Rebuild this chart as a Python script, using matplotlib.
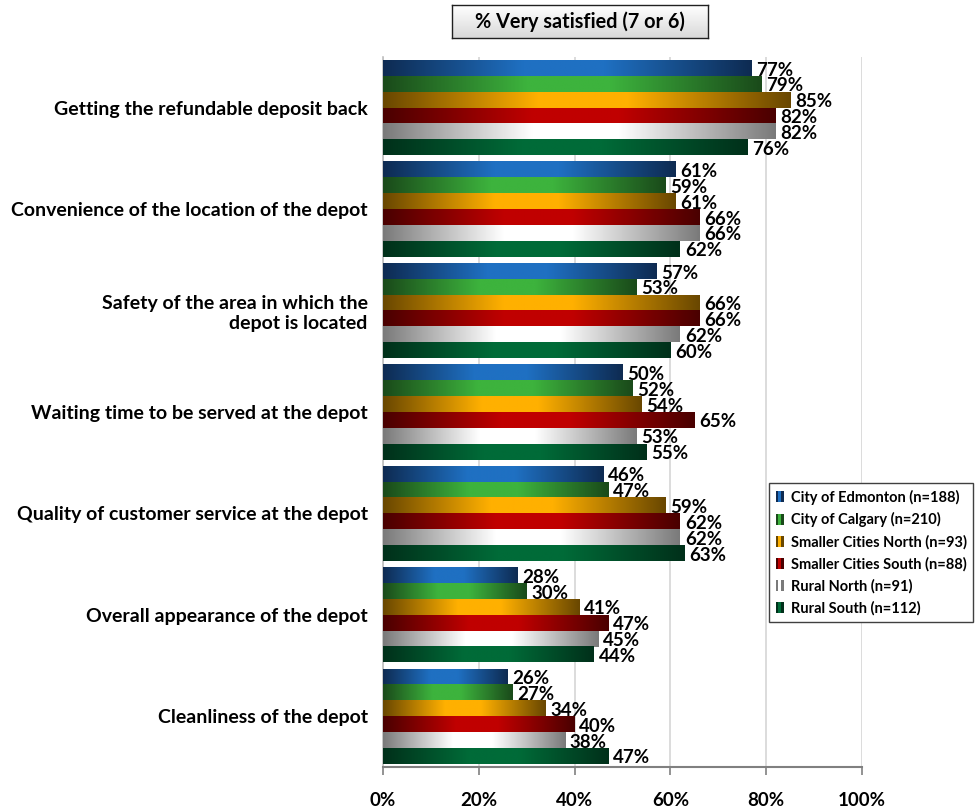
import numpy as np
import matplotlib
matplotlib.use("Agg")
import matplotlib.pyplot as plt
from matplotlib.colors import to_rgb
from matplotlib.patches import Rectangle, Patch
from matplotlib.legend_handler import HandlerBase

plt.rcParams['font.family'] = ['Lato', 'DejaVu Sans']
plt.rcParams['font.weight'] = 'bold'

categories = [
    "Getting the refundable deposit back",
    "Convenience of the location of the depot",
    "Safety of the area in which the\ndepot is located",
    "Waiting time to be served at the depot",
    "Quality of customer service at the depot",
    "Overall appearance of the depot",
    "Cleanliness of the depot",
]
series_names = [
    "City of Edmonton (n=188)",
    "City of Calgary (n=210)",
    "Smaller Cities North (n=93)",
    "Smaller Cities South (n=88)",
    "Rural North (n=91)",
    "Rural South (n=112)",
]
edmonton = [77, 61, 57, 50, 46, 28, 26]
calgary = [79, 59, 53, 52, 47, 30, 27]
small_north = [85, 61, 66, 54, 59, 41, 34]
small_south = [82, 66, 66, 65, 62, 47, 40]
rural_north = [82, 66, 62, 53, 62, 45, 38]
rural_south = [76, 62, 60, 55, 63, 44, 47]
series_values = [edmonton, calgary, small_north, small_south, rural_north, rural_south]
x_ticks = [0, 20, 40, 60, 80, 100]
x_ticklabels = ["0%", "20%", "40%", "60%", "80%", "100%"]
title_text = "% Very satisfied (7 or 6)"

# (dark, light) gradient colours
grad_colors = [
    ("#0E2B52", "#1F70C2"),
    ("#1A4A1A", "#3DB33D"),
    ("#694700", "#FFB000"),
    ("#4A0000", "#C00000"),
    ("#7A7A7A", "#FFFFFF"),
    ("#00301A", "#006B38"),
]


def gradient_row(dark, light, n=256):
    d = np.array(to_rgb(dark))
    l = np.array(to_rgb(light))
    t = np.linspace(0, 1, n)
    stops = [0.0, 0.38, 0.6, 1.0]
    w = np.interp(t, stops, [0.0, 1.0, 1.0, 0.0])
    row = d[None, :] * (1 - w[:, None]) + l[None, :] * w[:, None]
    return row[None, :, :]


W, H = 975, 809
fig = plt.figure(figsize=(W / 100, H / 100), dpi=100)
ax = fig.add_axes([383 / W, 1 - 767 / H, (862 - 383) / W, (767 - 57) / H])

n_groups = len(categories)
n_series = len(series_values)
group_fill = 0.937
bh = group_fill / n_series

for j, (vals, (dark, light)) in enumerate(zip(series_values, grad_colors)):
    img = gradient_row(dark, light)
    for i, v in enumerate(vals):
        yc = i - group_fill / 2 + bh * (j + 0.5)
        bars = ax.barh(yc, v, height=bh, color='none', edgecolor='none', zorder=3)
        r = bars[0]
        x0, y0 = r.get_x(), r.get_y()
        ax.imshow(img, extent=(x0, x0 + r.get_width(), y0 + r.get_height(), y0),
                  aspect='auto', interpolation='bilinear', zorder=3)
        ax.text(v + 1.0, yc + 0.02, f"{v}%", va='center', ha='left',
                fontsize=13.5, fontweight='bold', color='black', zorder=4)

ax.set_xlim(0, 100)
ax.set_ylim(n_groups - 0.5, -0.5)
ax.set_aspect('auto')

ax.set_xticks(x_ticks)
ax.set_xticklabels(x_ticklabels, fontsize=13.5, fontweight='bold')
ax.set_yticks(range(n_groups))
ax.set_yticklabels(categories, fontsize=14, fontweight='bold')
ax.tick_params(axis='y', length=0, pad=11)
ax.tick_params(axis='x', direction='out', length=6, width=1.2, color='#808080', pad=12)

ax.grid(axis='x', color='#D9D9D9', lw=1.3, zorder=0)
ax.set_axisbelow(True)
for s in ['top', 'right']:
    ax.spines[s].set_visible(False)
ax.spines['left'].set_color('#BFBFBF')
ax.spines['left'].set_linewidth(1.2)
ax.spines['bottom'].set_color('#808080')
ax.spines['bottom'].set_linewidth(1.5)


# Legend with striped gradient markers
class GradPatch(Patch):
    def __init__(self, dark, light, **kw):
        super().__init__(**kw)
        self.dark = dark
        self.light = light


class GradHandler(HandlerBase):
    def create_artists(self, legend, orig_handle, xdescent, ydescent,
                       width, height, fontsize, trans):
        w = width / 3.0
        arts = []
        for k, c in enumerate([orig_handle.dark, orig_handle.light, orig_handle.dark]):
            arts.append(Rectangle((-xdescent + k * w, -ydescent), w, height,
                                  facecolor=c, edgecolor='none', transform=trans))
        return arts


handles = [GradPatch(d, l, label=n) for (d, l), n in zip(grad_colors, series_names)]
leg = fig.legend(handles=handles, labels=series_names,
                 handler_map={GradPatch: GradHandler()},
                 loc='upper left', bbox_to_anchor=(769 / W, 1 - 483 / H),
                 bbox_transform=fig.transFigure, borderaxespad=0,
                 prop={'family': ['Lato', 'DejaVu Sans'], 'weight': 'bold', 'size': 10.5},
                 handlelength=0.55, handleheight=0.8, handletextpad=0.5,
                 labelspacing=0.52, borderpad=0.45, fancybox=False, framealpha=1,
                 edgecolor='#404040')
leg.get_frame().set_linewidth(1.0)

# Title box with vertical gradient
tax = fig.add_axes([452 / W, 1 - 38 / H, (708 - 452) / W, (38 - 5) / H])
tg = np.linspace(1.0, 0.85, 64)[:, None]
tax.imshow(np.dstack([tg, tg, tg]), aspect='auto', extent=(0, 1, 0, 1))
tax.set_xticks([])
tax.set_yticks([])
for s in tax.spines.values():
    s.set_color('#202020')
    s.set_linewidth(1.0)
tax.text(0.5, 0.5, title_text, ha='center', va='center', fontsize=14.3,
         fontweight='bold', transform=tax.transAxes)

fig.savefig("out.png", dpi=100)
